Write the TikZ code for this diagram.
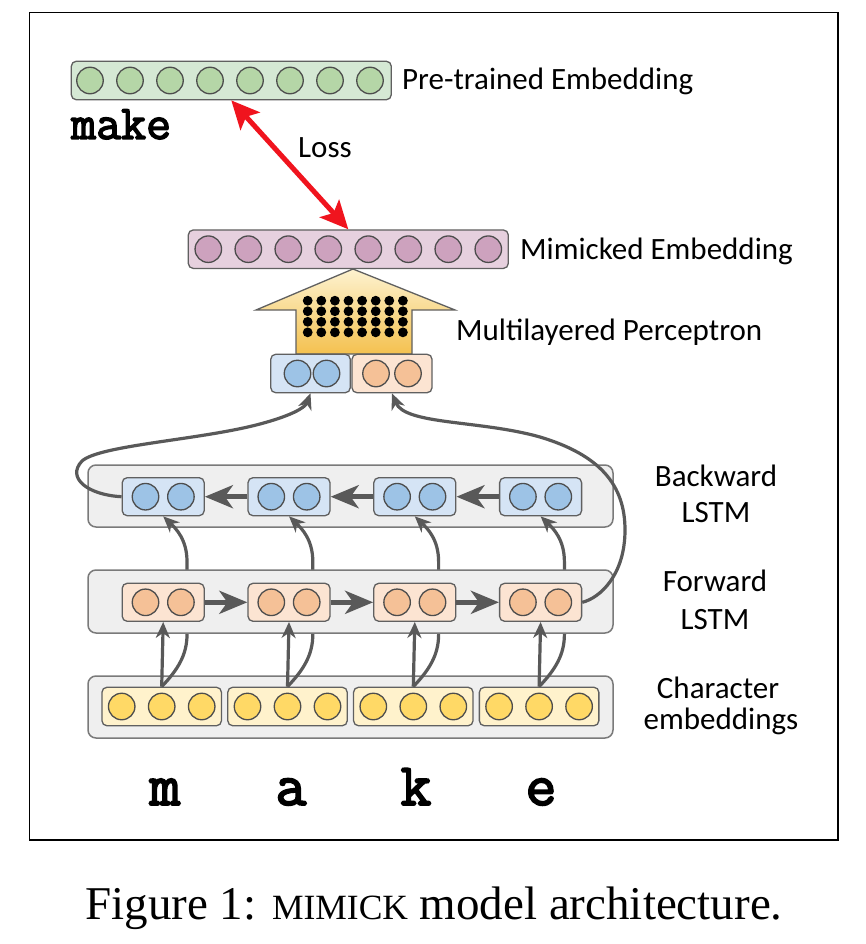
\documentclass[tikz,border=0pt]{standalone}
\usepackage{fontspec}
\setmainfont{Carlito}
\newfontfamily\monofnt{Latin Modern Mono}[FakeBold=3]
\newfontfamily\seriffnt{Liberation Serif}
\usetikzlibrary{arrows.meta,calc}
\definecolor{strk}{HTML}{606060}
\definecolor{circstk}{HTML}{4D4D4D}
\definecolor{greenBar}{HTML}{D5E8D4}
\definecolor{greenC}{HTML}{B5D6A7}
\definecolor{pinkBar}{HTML}{E6D0DE}
\definecolor{pinkC}{HTML}{CDA2BE}
\definecolor{blueCell}{HTML}{D5E4F5}
\definecolor{blueC}{HTML}{9DC3E6}
\definecolor{orCell}{HTML}{FCE4D2}
\definecolor{orC}{HTML}{F5C197}
\definecolor{yeSub}{HTML}{FFF2CC}
\definecolor{yeC}{HTML}{FFD966}
\definecolor{boxGray}{HTML}{EFEFEF}
\definecolor{boxStk}{HTML}{7A7A7A}
\definecolor{arrGray}{HTML}{595959}
\definecolor{mlpTop}{HTML}{FDF2D0}
\definecolor{mlpBot}{HTML}{F4C14F}
\definecolor{lossRed}{HTML}{F0141E}
\begin{document}
\begin{tikzpicture}[x=1pt,y=-1pt,
  bar/.style={draw=strk, line width=1.3pt, rounded corners=5pt, inner sep=0pt, minimum height=38.5pt},
  dotc/.style={circle, draw=circstk, line width=1.3pt, inner sep=0pt, minimum size=26.5pt},
  bigbox/.style={draw=boxStk, fill=boxGray, line width=1.5pt, rounded corners=8pt, minimum width=525pt, minimum height=62pt, inner sep=0pt},
  cellB/.style={bar, fill=blueCell, minimum width=82pt, minimum height=38pt},
  cellF/.style={bar, fill=orCell, minimum width=82pt, minimum height=38pt},
  subC/.style={bar, fill=yeSub, minimum width=119.5pt, minimum height=38.5pt},
  lbl/.style={font=\fontsize{31}{36}\selectfont, text=black, inner sep=0pt},
  letter/.style={font=\monofnt\fontsize{60}{62}\selectfont, inner sep=0pt},
  garrow/.style={draw=arrGray, line width=4.8pt, -{Stealth[length=28pt,width=23pt,inset=8pt]}},
  tarrow/.style={draw=arrGray, line width=3.2pt, -{Stealth[length=16pt,width=14pt,inset=5pt]}},
  redarrow/.style={draw=lossRed, line width=5pt, {Stealth[length=28pt,width=26pt,inset=6pt]}-{Stealth[length=28pt,width=26pt,inset=6pt]}}
]
\useasboundingbox (0,0) rectangle (866,944);
\fill[white] (0,0) rectangle (866,944);
\draw[line width=1.6pt] (29.5,12.5) rectangle (838,840);

% pre-trained embedding
\node[bar, fill=greenBar, minimum width=320pt] (pre) at (231.3,80.5) {};
\foreach \i in {0,...,7} \node[dotc, fill=greenC] (g\i) at (90+40*\i,80.5) {};
\node[lbl, anchor=base west] (prel) at (402,90) {Pre-trained Embedding};
\node[font=\monofnt\fontsize{48.5}{50}\selectfont, inner sep=0pt, anchor=base west] (mk) at (71,139) {make};

% mimicked embedding
\node[bar, fill=pinkBar, minimum width=320pt] (mim) at (348.3,249.2) {};
\foreach \i in {0,...,7} \node[dotc, fill=pinkC] (p\i) at (208.3+40*\i,249.2) {};
\node[lbl, anchor=base west] (miml) at (520,259) {Mimicked Embedding};

% loss
\draw[redarrow] (pre.south) -- (mim.north);
\node[lbl, anchor=base] (loss) at (325,158) {Loss};

% MLP arrow
\shade[top color=mlpTop, bottom color=mlpBot, draw=strk, line width=1.3pt]
  (353,269) -- (455,310) -- (412,310) -- (412,354) -- (296,354) -- (296,310) -- (256,310) -- cycle;
\foreach \c in {0,...,7} \foreach \r in {0,...,3}
  \fill (307.7+13.6*\c,300.7+10.55*\r) circle (4.9);
\node[lbl, anchor=base west] (mlpl) at (456,340) {Multilayered Perceptron};

% combined state
\node[bar, fill=blueCell, minimum width=79.5pt] (cb) at (310.5,373.5) {};
\node[bar, fill=orCell, minimum width=80pt] (co) at (392,373.5) {};
\node[dotc, fill=blueC] (cb1) at (297.5,373.5) {};
\node[dotc, fill=blueC] (cb2) at (326.5,373.5) {};
\node[dotc, fill=orC] (co1) at (376,373.5) {};
\node[dotc, fill=orC] (co2) at (408,373.5) {};

% backward LSTM
\node[bigbox] (bbox) at (350.5,496) {};
\foreach \i/\X in {1/163.2,2/289,3/414.8,4/540.6} {
  \node[cellB] (b\i) at (\X,496.7) {};
  \node[dotc, fill=blueC] (b\i a) at (\X-17.7,496.7) {};
  \node[dotc, fill=blueC] (b\i b) at (\X+17.7,496.7) {};
}

% character embeddings
\node[bigbox] (cbox) at (350.5,707) {};
\foreach \i/\X in {1/161.7,2/287.5,3/413.3,4/539.1} {
  \node[subC] (c\i) at (\X,706.5) {};
  \node[dotc, fill=yeC] (c\i a) at (\X-40,706.5) {};
  \node[dotc, fill=yeC] (c\i b) at (\X,706.5) {};
  \node[dotc, fill=yeC] (c\i c) at (\X+40,706.5) {};
}

% char -> backward curves
\foreach \i in {1,...,4} {
  \draw[tarrow] (c\i.north) .. controls ($(c\i.north)+(16.3,-17)$) and ($(c\i.north)+(25.3,-32)$) ..
    ($(c\i.north)+(25.3,-52)$) -- ($(c\i.north)+(25.3,-125)$)
    .. controls ($(c\i.north)+(25.3,-147)$) and ($(c\i.north)+(14.3,-158)$) .. (b\i.south);
}

% forward LSTM
\node[bigbox, minimum height=63pt] (fbox) at (350.5,601.5) {};
\foreach \i/\X in {1/163.2,2/289,3/414.8,4/540.6} {
  \node[cellF] (f\i) at (\X,602.3) {};
  \node[dotc, fill=orC] (f\i a) at (\X-17.7,602.3) {};
  \node[dotc, fill=orC] (f\i b) at (\X+17.7,602.3) {};
}

% char -> forward arrows
\foreach \i in {1,...,4} \draw[tarrow] (c\i.north) -- (f\i.south);

% recurrent arrows
\draw[garrow] (b2.west) -- (b1.east);
\draw[garrow] (b3.west) -- (b2.east);
\draw[garrow] (b4.west) -- (b3.east);
\draw[garrow] (f1.east) -- (f2.west);
\draw[garrow] (f2.east) -- (f3.west);
\draw[garrow] (f3.east) -- (f4.west);

% final states to combined
\draw[tarrow] (b1.west) .. controls (88,495) and (66,478) .. (82,461)
  .. controls (100,445) and (200,440) .. (260,424)
  .. controls (290,416) and (305,408) .. (cb.south);
\draw[tarrow] (f4.east) .. controls (600,598) and (625,575) .. (625,530)
  .. controls (625,485) and (600,455) .. (540,437)
  .. controls (480,420) and (405,425) .. (co.south);

% labels
\node[lbl, anchor=base] (bl1) at (716,486) {Backward};
\node[lbl, anchor=base] (bl2) at (716,522.7) {LSTM};
\node[lbl, anchor=base] (fl1) at (715,591.7) {Forward};
\node[lbl, anchor=base] (fl2) at (715,629) {LSTM};
\node[lbl, anchor=base] (cl1) at (718,698) {Character};
\node[lbl, anchor=base] (cl2) at (721,729) {embeddings};

% letters
\node[letter, anchor=base] (lm) at (165,805) {m};
\node[letter, anchor=base] (la) at (291,805) {a};
\node[letter, anchor=base] (lk) at (416,805) {k};
\node[letter, anchor=base] (le) at (541,805) {e};

% caption
\node[font=\seriffnt\fontsize{47}{50}\selectfont, inner sep=0pt, anchor=base] (cap) at (434,919)
  {Figure 1: {\fontsize{35.5}{40}\selectfont MIMICK} model architecture.};
\end{tikzpicture}
\end{document}
